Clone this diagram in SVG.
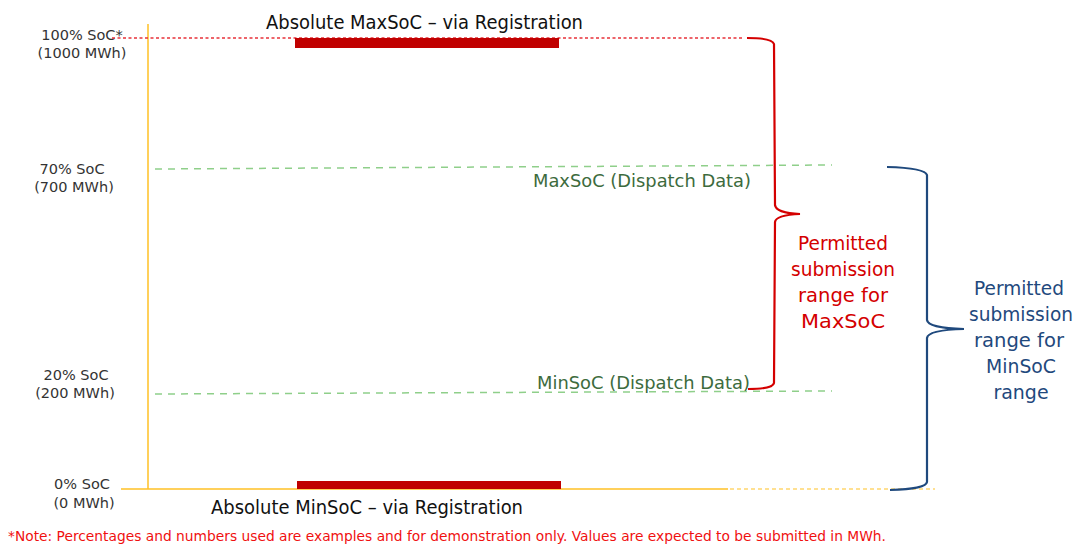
<svg xmlns="http://www.w3.org/2000/svg" width="1076" height="548" viewBox="0 0 1076 548">
<style>
text{font-family:"DejaVu Sans","Liberation Sans",sans-serif}
.lbl{font-size:14.5px;fill:#333;text-anchor:middle}
.title{font-size:19px;fill:#111}
.green{font-size:18.5px;fill:#3d6b3d}
.red{font-size:19px;fill:#d40000;text-anchor:middle}
.blue{font-size:19px;fill:#1f497d;text-anchor:middle}
.note{font-size:14px;fill:#f01010}
.gd{stroke:#8fcf8a;stroke-width:1.5;stroke-dasharray:7 6;fill:none}
</style>
<rect width="1076" height="548" fill="#fff"/>
<g id="axes">
<line x1="148" y1="24" x2="148" y2="489" stroke="#ffc125" stroke-width="1.5"/>
<line x1="121" y1="489" x2="728" y2="489" stroke="#ffc125" stroke-width="1.5"/>
<line x1="730" y1="489" x2="935" y2="489" stroke="#ffc125" stroke-width="1.2" stroke-dasharray="4 3"/>
</g>
<g id="labels">
<text class="lbl" x="82" y="40">100% SoC*</text>
<text class="lbl" x="82" y="58">(1000 MWh)</text>
<text class="lbl" x="72" y="174">70% SoC</text>
<text class="lbl" x="74" y="192">(700 MWh)</text>
<text class="lbl" x="76" y="380">20% SoC</text>
<text class="lbl" x="75" y="398">(200 MWh)</text>
<text class="lbl" x="82" y="489">0% SoC</text>
<text class="lbl" x="84" y="508">(0 MWh)</text>
</g>
<g id="maxsoc-registration">
<line x1="112" y1="38" x2="742" y2="38" stroke="#e8323a" stroke-width="1.3" stroke-dasharray="3 2.5"/>
<rect x="295" y="38" width="264" height="10" fill="#c00000"/>
<text class="title" x="266" y="29" textLength="317" lengthAdjust="spacingAndGlyphs">Absolute MaxSoC – via Registration</text>
</g>
<g id="maxsoc-dispatch">
<line class="gd" x1="155" y1="169" x2="832" y2="165"/>
<text class="green" x="533" y="187" textLength="218" lengthAdjust="spacingAndGlyphs">MaxSoC (Dispatch Data)</text>
</g>
<g id="minsoc-dispatch">
<line class="gd" x1="155" y1="394" x2="832" y2="391"/>
<text class="green" x="537" y="389" textLength="213" lengthAdjust="spacingAndGlyphs">MinSoC (Dispatch Data)</text>
</g>
<g id="minsoc-registration">
<rect x="297" y="481" width="264" height="8" fill="#c00000"/>
<text class="title" x="211" y="514" textLength="312" lengthAdjust="spacingAndGlyphs">Absolute MinSoC – via Registration</text>
</g>
<g id="connectors">
<path d="M747 38 Q772 38 774 44 L775 205 Q776 213 800 214 Q776 215 775 222 L774 383 Q773 389 748 389" fill="none" stroke="#d40000" stroke-width="2.2"/>
<path d="M887 167 Q925 168 927 175 L927 320 Q928 328 964 329 Q928 330 927 338 L927 482 Q926 489 890 490" fill="none" stroke="#1f497d" stroke-width="2.2"/>
</g>
<g id="maxsoc-range">
<text class="red" x="843" y="250" textLength="90" lengthAdjust="spacingAndGlyphs">Permitted</text>
<text class="red" x="843" y="276" textLength="104" lengthAdjust="spacingAndGlyphs">submission</text>
<text class="red" x="843" y="302" textLength="90" lengthAdjust="spacingAndGlyphs">range for</text>
<text class="red" x="843" y="328" textLength="84" lengthAdjust="spacingAndGlyphs">MaxSoC</text>
</g>
<g id="minsoc-range">
<text class="blue" x="1019" y="295" textLength="90" lengthAdjust="spacingAndGlyphs">Permitted</text>
<text class="blue" x="1021" y="321" textLength="104" lengthAdjust="spacingAndGlyphs">submission</text>
<text class="blue" x="1019" y="347" textLength="90" lengthAdjust="spacingAndGlyphs">range for</text>
<text class="blue" x="1021" y="373" textLength="70" lengthAdjust="spacingAndGlyphs">MinSoC</text>
<text class="blue" x="1021" y="399">range</text>
</g>
<g id="note">
<text class="note" x="8" y="541" textLength="878" lengthAdjust="spacingAndGlyphs">*Note: Percentages and numbers used are examples and for demonstration only. Values are expected to be submitted in MWh.</text>
</g>
</svg>
